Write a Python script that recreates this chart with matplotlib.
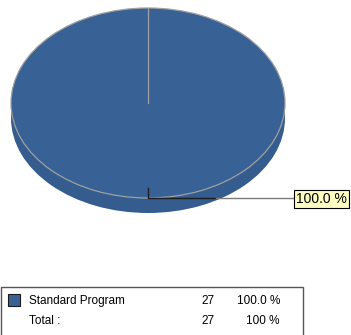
import numpy as np
import matplotlib
matplotlib.use("Agg")
import matplotlib.pyplot as plt
from matplotlib.patches import Rectangle

plt.rcParams['font.family'] = ['Liberation Sans', 'DejaVu Sans']

categories = ['Standard Program']
counts = [27]
total_label = 'Total :'

PIE_BLUE = '#386296'
SIDE_BLUE = '#345c8e'
START_ANGLE = 90

W, H = 351, 335
fig = plt.figure(figsize=(W / 100, H / 100), dpi=100)

# pie axes: x spans the rim, y squashed so the circle renders as a tilted ellipse
left, right, top, bottom = 11, 285, 8, 212
pie_ax = fig.add_axes([left / W, 1 - bottom / H, (right - left) / W, (bottom - top) / H])
ry_px = 95.0
depth = 15.0 / ry_px
ylo = 1 - (bottom - top) / ry_px

# side of the disc: lower copy plus a band joining it to the top
pie_ax.pie(counts, startangle=START_ANGLE, counterclock=False, colors=[SIDE_BLUE],
           center=(0, -depth), radius=1, frame=True,
           wedgeprops=dict(edgecolor='none'))
pie_ax.add_patch(Rectangle((-1, -depth), 2, depth, facecolor=SIDE_BLUE, edgecolor='none'))
pie_ax.pie(counts, startangle=START_ANGLE, counterclock=False, colors=[PIE_BLUE],
           center=(0, 0), radius=1, frame=True,
           wedgeprops=dict(edgecolor='#a0a0a0', linewidth=0.9))

# slice boundaries on the top face
total = sum(counts)
edges = START_ANGLE - 360.0 * np.cumsum([0] + counts[:-1]) / total
for a in edges:
    t = np.deg2rad(a)
    pie_ax.plot([0, np.cos(t)], [0, np.sin(t)], color='#a0a0a0', lw=0.9)

pie_ax.set_aspect('auto')
pie_ax.set_xlim(-1, 1)
pie_ax.set_ylim(ylo, 1)
pie_ax.axis('off')

# overlay axes in pixel units for leader, label and legend table
ax = fig.add_axes([0, 0, 1, 1])
ax.set_xlim(0, W)
ax.set_ylim(H, 0)
ax.patch.set_alpha(0)
ax.axis('off')

# percentage callout
pcts = [100.0 * c / total for c in counts]
ax.plot([148, 148, 216], [188, 198, 198], color='#1c1c1c', lw=1.0)
ax.plot([216, 293], [198, 198], color='#7a7a7a', lw=1.0)
ax.text(296, 199, f'{pcts[0]:.1f} %', fontsize=10, va='center', ha='left',
        bbox=dict(boxstyle='square,pad=0.15', facecolor='#ffffc4', edgecolor='black', lw=0.8))

# legend table
ax.add_patch(Rectangle((0.5, 287), 302, 60, facecolor='white', edgecolor='#555555', lw=1.0))
ax.add_patch(Rectangle((8, 294), 12, 12, facecolor=PIE_BLUE, edgecolor='#1a1a1a', lw=0.8))
fs = 8.5
ax.text(29, 301, categories[0], fontsize=fs, va='center')
ax.text(215, 301, str(counts[0]), fontsize=fs, va='center', ha='right')
ax.text(280, 301, f'{pcts[0]:.1f} %', fontsize=fs, va='center', ha='right')
ax.text(29, 321, total_label, fontsize=fs, va='center')
ax.text(215, 321, str(total), fontsize=fs, va='center', ha='right')
ax.text(280, 321, f'{sum(pcts):.0f} %', fontsize=fs, va='center', ha='right')

fig.savefig('out.png', dpi=100, facecolor='white')
